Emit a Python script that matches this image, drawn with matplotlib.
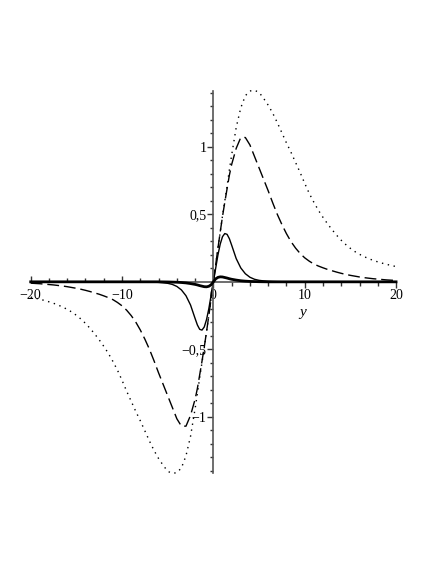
import matplotlib
matplotlib.use("Agg")
import matplotlib.pyplot as plt
import matplotlib.lines as mlines
from matplotlib.ticker import FixedLocator

# ---- data ----
y_vals = [-20, -19.5, -19, -18.5, -18, -17.5, -17, -16.5, -16, -15.5, -15, -14.5,
          -14, -13.5, -13, -12.5, -12, -11.5, -11, -10.5, -10, -9.5, -9, -8.5,
          -8, -7.5, -7, -6.5, -6, -5.5, -5, -4.5, -4, -3.5, -3, -2.5, -2,
          -1.75, -1.5, -1.25, -1, -0.75, -0.5, -0.25, 0,
          0.25, 0.5, 0.75, 1, 1.25, 1.5, 1.75, 2, 2.5, 3, 3.5, 4, 4.5, 5,
          5.5, 6, 6.5, 7, 7.5, 8, 8.5, 9, 9.5, 10, 10.5, 11, 11.5, 12, 12.5,
          13, 13.5, 14, 14.5, 15, 15.5, 16, 16.5, 17, 17.5, 18, 18.5, 19, 19.5, 20]

dotted_vals = [-0.113, -0.121, -0.129, -0.138, -0.148, -0.159, -0.172, -0.187, -0.204, -0.224,
               -0.248, -0.276, -0.308, -0.345, -0.386, -0.43, -0.478, -0.53, -0.59, -0.655,
               -0.73, -0.81, -0.885, -0.96, -1.03, -1.105, -1.18, -1.25, -1.31, -1.36,
               -1.405, -1.42, -1.415, -1.38, -1.29, -1.145, -0.94, -0.83, -0.71, -0.60,
               -0.49, -0.37, -0.25, -0.125, 0.0,
               0.125, 0.25, 0.37, 0.49, 0.60, 0.71, 0.83, 0.94, 1.145, 1.29,
               1.38, 1.415, 1.42, 1.405, 1.36, 1.31, 1.25, 1.18, 1.105, 1.03,
               0.96, 0.885, 0.81, 0.73, 0.655, 0.59, 0.53, 0.478, 0.43, 0.386,
               0.345, 0.308, 0.276, 0.248, 0.224, 0.204, 0.187, 0.172, 0.159, 0.148,
               0.138, 0.129, 0.121, 0.113]

dashed_vals = [-0.010, -0.012, -0.014, -0.017, -0.020, -0.023, -0.027, -0.031, -0.036, -0.042,
               -0.048, -0.055, -0.063, -0.072, -0.082, -0.092, -0.104, -0.117, -0.132, -0.153,
               -0.178, -0.21, -0.25, -0.298, -0.357, -0.425, -0.50, -0.585, -0.675, -0.76,
               -0.845, -0.93, -1.015, -1.07, -1.07, -0.99, -0.87, -0.79, -0.69, -0.59,
               -0.485, -0.37, -0.25, -0.125, 0.0,
               0.125, 0.25, 0.37, 0.485, 0.59, 0.69, 0.79, 0.87, 0.99, 1.07,
               1.07, 1.015, 0.93, 0.845, 0.76, 0.675, 0.585, 0.50, 0.425, 0.357,
               0.298, 0.25, 0.21, 0.178, 0.153, 0.132, 0.117, 0.104, 0.092, 0.082,
               0.072, 0.063, 0.055, 0.048, 0.042, 0.036, 0.031, 0.027, 0.023, 0.020,
               0.017, 0.014, 0.012, 0.010]

thin_vals = [0, 0, 0, 0, 0, 0, 0, 0, 0, 0,
             0, 0, 0, 0, 0, 0, 0, 0, 0, 0,
             0, 0, -0.0002, -0.0004, -0.0006, -0.001, -0.0015, -0.0025, -0.004, -0.007,
             -0.011, -0.019, -0.034, -0.06, -0.103, -0.172, -0.272, -0.32, -0.352, -0.358,
             -0.335, -0.28, -0.20, -0.10, 0.0,
             0.10, 0.20, 0.28, 0.335, 0.358, 0.352, 0.32, 0.272, 0.172, 0.103,
             0.06, 0.034, 0.019, 0.011, 0.007, 0.004, 0.0025, 0.0015, 0.001, 0.0006,
             0.0004, 0.0002, 0, 0, 0, 0, 0, 0, 0, 0,
             0, 0, 0, 0, 0, 0, 0, 0, 0, 0,
             0, 0, 0, 0]

thick_vals = [0, 0, 0, 0, 0, 0, 0, 0, 0, 0,
              0, 0, 0, 0, 0, 0, 0, 0, 0, 0,
              0, 0, 0, 0, 0, 0, 0, 0, 0, -0.0005,
              -0.001, -0.002, -0.003, -0.005, -0.008, -0.013, -0.019, -0.023, -0.028, -0.032,
              -0.036, -0.037, -0.033, -0.022, 0.0,
              0.022, 0.033, 0.037, 0.036, 0.032, 0.028, 0.023, 0.019, 0.013, 0.008,
              0.005, 0.003, 0.002, 0.001, 0.0005, 0, 0, 0, 0, 0,
              0, 0, 0, 0, 0, 0, 0, 0, 0, 0,
              0, 0, 0, 0, 0, 0, 0, 0, 0, 0,
              0, 0, 0, 0]

x_major = [-20, -10, 0, 10, 20]
x_major_labels = ["\u221220", "\u221210", "0", "10", "20"]
x_minor = [-18, -16, -14, -12, -8, -6, -4, -2, 2, 4, 6, 8, 12, 14, 16, 18]
y_major = [-1, -0.5, 0.5, 1]
y_major_labels = ["\u22121", "\u22120,5", "0,5", "1"]
y_minor = [v / 10 for v in range(-14, 15) if v % 5 != 0]

# ---- figure ----
plt.rcParams['font.family'] = ['Liberation Serif', 'DejaVu Serif']
fig = plt.figure(figsize=(4.36, 5.64), dpi=100)
ax = fig.add_axes([0.0704, 0.1619, 0.8380, 0.6768])

ax.plot(y_vals, dotted_vals, color='black', lw=1.0, linestyle=(0, (1, 3.3)), clip_on=False)
ax.plot(y_vals, dashed_vals, color='black', lw=1.0, linestyle=(0, (8.5, 3.5)), clip_on=False)
ax.plot(y_vals, thin_vals, color='black', lw=1.0, clip_on=False)
ax.plot(y_vals, thick_vals, color='black', lw=2.0, clip_on=False, zorder=3)

ax.set_xlim(-20, 20)
ax.set_ylim(-1.415, 1.415)

for s in ['top', 'right']:
    ax.spines[s].set_visible(False)
ax.spines['left'].set_position('zero')
ax.spines['bottom'].set_position('zero')
ax.spines['left'].set_color('#555555')
ax.spines['bottom'].set_color('#555555')
ax.spines['left'].set_linewidth(1.2)
ax.spines['bottom'].set_linewidth(1.2)

ax.xaxis.set_major_locator(FixedLocator(x_major))
ax.set_xticklabels(x_major_labels)
ax.xaxis.set_minor_locator(FixedLocator(x_minor))
ax.yaxis.set_major_locator(FixedLocator(y_major))
ax.set_yticklabels(y_major_labels)
ax.yaxis.set_minor_locator(FixedLocator(y_minor))

ax.tick_params(axis='x', which='major', direction='out', length=4, width=1, color='#333333',
               labelsize=10, pad=1)
ax.tick_params(axis='x', which='minor', direction='out', length=3, width=1, color='#333333')
ax.tick_params(axis='y', which='major', direction='out', length=4, width=1, color='#333333',
               labelsize=10, pad=1)
ax.tick_params(axis='y', which='minor', direction='out', length=2, width=1, color='#333333')

# ticks on the negative side of the horizontal axis point upward
fig.canvas.draw()
for tick, loc in zip(ax.xaxis.get_major_ticks(), x_major):
    if loc < 0:
        tick.tick1line.set_marker(mlines.TICKUP)
for tick, loc in zip(ax.xaxis.get_minor_ticks(), x_minor):
    if loc < 0:
        tick.tick1line.set_marker(mlines.TICKUP)

ax.set_xlabel('y', fontstyle='italic', fontsize=11)
ax.xaxis.set_label_coords(0.744, 0.437)

fig.savefig('out.png', dpi=100)
